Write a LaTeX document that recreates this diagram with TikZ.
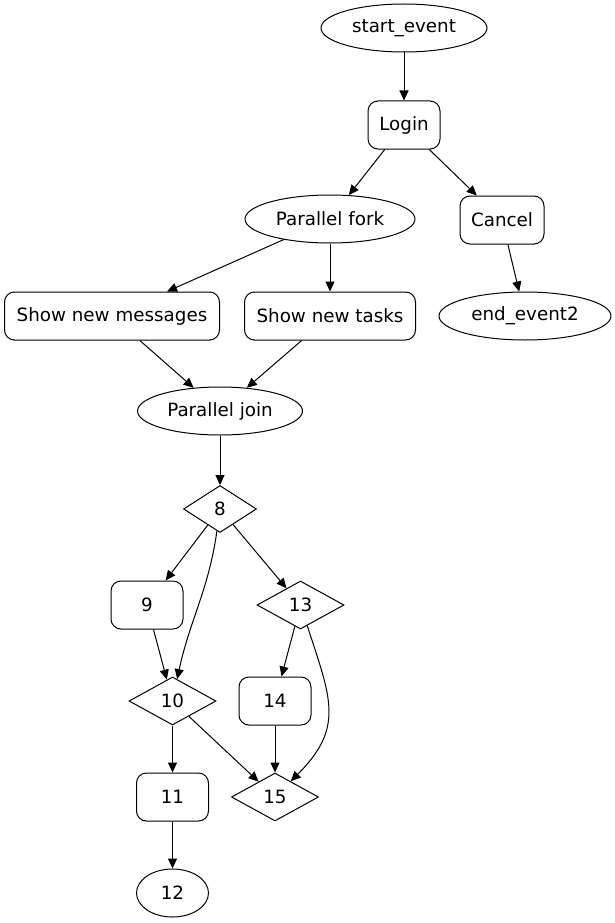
\documentclass[tikz,border=0pt]{standalone}
\usepackage{fontspec}
\setmainfont{DejaVu Sans}
\usetikzlibrary{shapes.geometric,arrows.meta}
\tikzset{
  base/.style={draw, line width=1pt, inner sep=0pt, font=\fontsize{18.3pt}{20pt}\selectfont},
  ell/.style={base, ellipse, minimum height=48pt},
  rbox/.style={base, rectangle, rounded corners=10pt, minimum height=48pt},
  dia/.style={base, diamond, minimum height=48pt, minimum width=87pt},
  arr/.style={line width=1pt, -{Triangle[length=10pt,width=9pt]}}
}
\begin{document}
\begin{tikzpicture}[x=1pt,y=-1pt]
\useasboundingbox (0,0) rectangle (615,923);
\node[ell, minimum width=166pt] (start) at (404,28) {start\_event};
\node[rbox, minimum width=72pt] (login) at (404,125) {Login};
\node[ell, minimum width=170pt] (fork) at (330,219) {Parallel fork};
\node[rbox, minimum width=84pt] (cancel) at (502,220) {Cancel};
\node[rbox, minimum width=215pt] (msgs) at (112,316) {Show new messages};
\node[rbox, minimum width=171pt] (tasks) at (330,316) {Show new tasks};
\node[ell, minimum width=172pt] (end2) at (525,316) {end\_event2};
\node[ell, minimum width=165pt] (join) at (220,411) {Parallel join};
\node[dia, minimum width=73pt, minimum height=47pt] (n8) at (220,509) {8};
\node[rbox, minimum width=72pt] (n9) at (147,605) {9};
\node[dia] (n13) at (300.5,605) {13};
\node[dia] (n10) at (172.5,701) {10};
\node[rbox, minimum width=72pt] (n14) at (275,701) {14};
\node[rbox, minimum width=72pt] (n11) at (172.5,797) {11};
\node[dia] (n15) at (275,797) {15};
\node[ell, minimum width=72pt] (n12) at (172.5,893) {12};

\draw[arr] (start) -- (login);
\draw[arr] (login) -- (fork);
\draw[arr] (login) -- (cancel);
\draw[arr] (fork) -- (msgs);
\draw[arr] (fork) -- (tasks);
\draw[arr] (cancel) -- (end2);
\draw[arr] (msgs) -- (join);
\draw[arr] (tasks) -- (join);
\draw[arr] (join) -- (n8);
\draw[arr] (n8) -- (n9);
\draw[arr] (n8) to[out=-98,in=78] (n10);
\draw[arr] (n8) -- (n13);
\draw[arr] (n9) -- (n10);
\draw[arr] (n13) -- (n14);
\draw[arr] (n13) to[out=-72,in=45,looseness=1.25] (n15);
\draw[arr] (n10) -- (n11);
\draw[arr] (n10) -- (n15);
\draw[arr] (n14) -- (n15);
\draw[arr] (n11) -- (n12);
\end{tikzpicture}
\end{document}
